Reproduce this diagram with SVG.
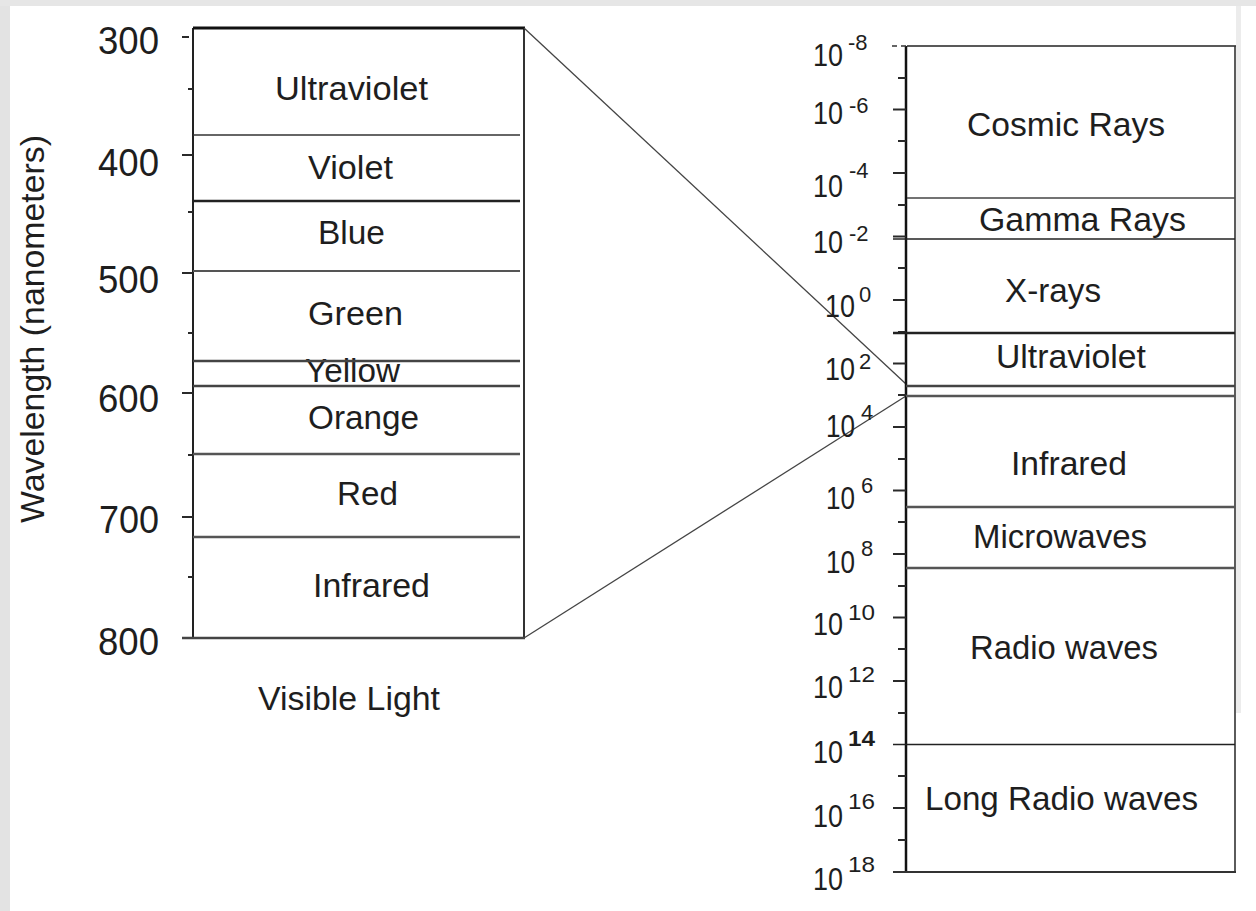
<svg xmlns="http://www.w3.org/2000/svg" width="1256" height="911" viewBox="0 0 1256 911">
<style>
  text { font-family: "Liberation Sans", Arial, sans-serif; fill: #1e1e1e; }
  .lbl { font-size: 34px; }
  .rlbl { font-size: 33px; }
  .num { font-size: 38px; }
  .ax { font-size: 32px; }
  .sup { font-size: 22px; }
  .supb { font-size: 22px; font-weight: bold; }
  .tick { stroke: #2a2a2a; stroke-width: 2; }
  .conn { stroke: #444; stroke-width: 1.3; fill: none; }
</style>
<rect x="0" y="0" width="1256" height="911" fill="#ffffff"/>
<rect x="0" y="0" width="10" height="911" fill="#e3e3e3"/>
<rect x="0" y="0" width="1256" height="6" fill="#e6e6e6"/>
<rect x="1236" y="6" width="5" height="707" fill="#ececec"/>

<!-- Left axis -->
<g id="left-axis">
  <line x1="193" y1="28" x2="193" y2="638" stroke="#222" stroke-width="2"/>
  <g class="tick">
    <line x1="182" y1="37" x2="189" y2="37"/>
    <line x1="182" y1="155" x2="193" y2="155"/>
    <line x1="182" y1="273" x2="193" y2="273"/>
    <line x1="182" y1="393" x2="193" y2="393"/>
    <line x1="182" y1="517" x2="193" y2="517"/>
    <line x1="188" y1="89" x2="193" y2="89"/>
    <line x1="188" y1="212" x2="193" y2="212"/>
    <line x1="188" y1="333" x2="193" y2="333"/>
    <line x1="188" y1="455" x2="193" y2="455"/>
    <line x1="188" y1="577" x2="193" y2="577"/>
  </g>
  <text class="num" x="98" y="54" textLength="61" lengthAdjust="spacingAndGlyphs">300</text>
  <text class="num" x="98" y="176" textLength="61" lengthAdjust="spacingAndGlyphs">400</text>
  <text class="num" x="98" y="293" textLength="61" lengthAdjust="spacingAndGlyphs">500</text>
  <text class="num" x="98" y="412" textLength="61" lengthAdjust="spacingAndGlyphs">600</text>
  <text class="num" x="99" y="533" textLength="60" lengthAdjust="spacingAndGlyphs">700</text>
  <text class="num" x="98" y="655" textLength="61" lengthAdjust="spacingAndGlyphs">800</text>
  <text transform="translate(44,329) rotate(-90)" font-size="33" text-anchor="middle" textLength="388" lengthAdjust="spacingAndGlyphs">Wavelength (nanometers)</text>
</g>

<!-- Left box (visible light) -->
<g id="visible-light">
  <line x1="524" y1="28" x2="524" y2="638" stroke="#333" stroke-width="2"/>
  <line x1="193" y1="28" x2="525" y2="28" stroke="#111" stroke-width="3"/>
  <line x1="182" y1="638" x2="525" y2="638" stroke="#444" stroke-width="2.5"/>
  <text class="lbl" x="258" y="710" textLength="182" lengthAdjust="spacingAndGlyphs">Visible Light</text>
</g>
<g id="vis-ultraviolet">
  <text class="lbl" x="275" y="100" textLength="153" lengthAdjust="spacingAndGlyphs">Ultraviolet</text>
  <line x1="193" y1="135" x2="520" y2="135" stroke="#333" stroke-width="1.6"/>
</g>
<g id="vis-violet">
  <text class="lbl" x="308" y="179" textLength="85" lengthAdjust="spacingAndGlyphs">Violet</text>
  <line x1="193" y1="201" x2="520" y2="201" stroke="#222" stroke-width="2.5"/>
</g>
<g id="vis-blue">
  <text class="lbl" x="318" y="244" textLength="67" lengthAdjust="spacingAndGlyphs">Blue</text>
  <line x1="193" y1="271" x2="520" y2="271" stroke="#555" stroke-width="2"/>
</g>
<g id="vis-green">
  <text class="lbl" x="308" y="325" textLength="95" lengthAdjust="spacingAndGlyphs">Green</text>
</g>
<g id="vis-yellow">
  <text class="lbl" x="305" y="382" textLength="95" lengthAdjust="spacingAndGlyphs">Yellow</text>
  <line x1="193" y1="361" x2="520" y2="361" stroke="#444" stroke-width="2.5"/>
  <line x1="193" y1="386" x2="520" y2="386" stroke="#444" stroke-width="2.5"/>
</g>
<g id="vis-orange">
  <text class="lbl" x="308" y="429" textLength="111" lengthAdjust="spacingAndGlyphs">Orange</text>
  <line x1="193" y1="454" x2="520" y2="454" stroke="#555" stroke-width="2.5"/>
</g>
<g id="vis-red">
  <text class="lbl" x="337" y="505" textLength="61" lengthAdjust="spacingAndGlyphs">Red</text>
  <line x1="193" y1="537" x2="520" y2="537" stroke="#555" stroke-width="2.5"/>
</g>
<g id="vis-infrared">
  <text class="lbl" x="313" y="597" textLength="117" lengthAdjust="spacingAndGlyphs">Infrared</text>
</g>

<!-- Connectors -->
<g id="connectors">
  <line class="conn" x1="524" y1="28" x2="906" y2="384"/>
  <line class="conn" x1="524" y1="638" x2="906" y2="396"/>
</g>

<!-- Right axis -->
<g id="right-axis">
  <line x1="906" y1="46" x2="906" y2="872" stroke="#111" stroke-width="2.5"/>
  <line x1="892" y1="46" x2="906" y2="46" stroke="#333" stroke-width="1.5" stroke-dasharray="5,4"/>
  <g class="tick">
    <line x1="893" y1="109.5" x2="906" y2="109.5"/>
    <line x1="893" y1="173" x2="906" y2="173"/>
    <line x1="893" y1="236.5" x2="906" y2="236.5"/>
    <line x1="893" y1="300" x2="906" y2="300"/>
    <line x1="893" y1="363.5" x2="906" y2="363.5"/>
    <line x1="893" y1="427" x2="906" y2="427"/>
    <line x1="893" y1="490.5" x2="906" y2="490.5"/>
    <line x1="893" y1="554" x2="906" y2="554"/>
    <line x1="893" y1="617.5" x2="906" y2="617.5"/>
    <line x1="893" y1="681" x2="906" y2="681"/>
    <line x1="893" y1="808" x2="906" y2="808"/>
    <line x1="898" y1="78" x2="906" y2="78"/>
    <line x1="898" y1="141" x2="906" y2="141"/>
    <line x1="898" y1="205" x2="906" y2="205"/>
    <line x1="898" y1="268" x2="906" y2="268"/>
    <line x1="898" y1="332" x2="906" y2="332"/>
    <line x1="898" y1="395" x2="906" y2="395"/>
    <line x1="898" y1="459" x2="906" y2="459"/>
    <line x1="898" y1="522" x2="906" y2="522"/>
    <line x1="898" y1="586" x2="906" y2="586"/>
    <line x1="898" y1="649" x2="906" y2="649"/>
    <line x1="898" y1="713" x2="906" y2="713"/>
    <line x1="898" y1="776" x2="906" y2="776"/>
    <line x1="898" y1="840" x2="906" y2="840"/>
  </g>
  <text class="ax" x="813" y="66" textLength="30" lengthAdjust="spacingAndGlyphs">10</text><text class="sup" x="848" y="50">-8</text>
  <text class="ax" x="813" y="124" textLength="30" lengthAdjust="spacingAndGlyphs">10</text><text class="sup" x="849" y="113">-6</text>
  <text class="ax" x="813" y="197" textLength="30" lengthAdjust="spacingAndGlyphs">10</text><text class="sup" x="849" y="178">-4</text>
  <text class="ax" x="813" y="253" textLength="30" lengthAdjust="spacingAndGlyphs">10</text><text class="sup" x="849" y="241">-2</text>
  <text class="ax" x="825" y="317" textLength="30" lengthAdjust="spacingAndGlyphs">10</text><text class="sup" x="859" y="302">0</text>
  <text class="ax" x="825" y="380" textLength="30" lengthAdjust="spacingAndGlyphs">10</text><text class="sup" x="859" y="369">2</text>
  <text class="ax" x="826" y="437" textLength="29" lengthAdjust="spacingAndGlyphs">10</text><text class="sup" x="861" y="420">4</text>
  <text class="ax" x="826" y="509" textLength="29" lengthAdjust="spacingAndGlyphs">10</text><text class="sup" x="861" y="493">6</text>
  <text class="ax" x="826" y="573" textLength="29" lengthAdjust="spacingAndGlyphs">10</text><text class="sup" x="861" y="556">8</text>
  <text class="ax" x="813" y="635" textLength="30" lengthAdjust="spacingAndGlyphs">10</text><text class="sup" x="848" y="620" textLength="27" lengthAdjust="spacingAndGlyphs">10</text>
  <text class="ax" x="813" y="698" textLength="30" lengthAdjust="spacingAndGlyphs">10</text><text class="sup" x="848" y="682" textLength="27" lengthAdjust="spacingAndGlyphs">12</text>
  <text class="ax" x="813" y="763" textLength="30" lengthAdjust="spacingAndGlyphs">10</text><text class="supb" x="848" y="746" textLength="27" lengthAdjust="spacingAndGlyphs">14</text>
  <text class="ax" x="813" y="827" textLength="30" lengthAdjust="spacingAndGlyphs">10</text><text class="sup" x="848" y="809" textLength="27" lengthAdjust="spacingAndGlyphs">16</text>
  <text class="ax" x="813" y="890" textLength="30" lengthAdjust="spacingAndGlyphs">10</text><text class="sup" x="848" y="872" textLength="27" lengthAdjust="spacingAndGlyphs">18</text>
</g>

<!-- Right box (electromagnetic spectrum) -->
<g id="spectrum">
  <line x1="907" y1="46" x2="1236" y2="46" stroke="#222" stroke-width="1.5"/>
  <line x1="1235" y1="46" x2="1235" y2="872" stroke="#333" stroke-width="1.6"/>
  <line x1="893" y1="872" x2="1236" y2="872" stroke="#333" stroke-width="2"/>
</g>
<g id="em-cosmic">
  <text class="rlbl" x="967" y="136" textLength="198" lengthAdjust="spacingAndGlyphs">Cosmic Rays</text>
  <line x1="907" y1="198" x2="1235" y2="198" stroke="#444" stroke-width="1.5"/>
</g>
<g id="em-gamma">
  <text class="rlbl" x="979" y="231" textLength="207" lengthAdjust="spacingAndGlyphs">Gamma Rays</text>
  <line x1="893" y1="239" x2="1235" y2="239" stroke="#222" stroke-width="1.5"/>
</g>
<g id="em-xrays">
  <text class="rlbl" x="1005" y="302" textLength="96" lengthAdjust="spacingAndGlyphs">X-rays</text>
  <line x1="893" y1="333" x2="1235" y2="333" stroke="#222" stroke-width="2.5"/>
</g>
<g id="em-ultraviolet">
  <text class="rlbl" x="996" y="368" textLength="150" lengthAdjust="spacingAndGlyphs">Ultraviolet</text>
  <line x1="906" y1="386" x2="1235" y2="386" stroke="#444" stroke-width="2.5"/>
</g>
<g id="em-visible">
  <line x1="906" y1="396" x2="1235" y2="396" stroke="#555" stroke-width="2.5"/>
</g>
<g id="em-infrared">
  <text class="rlbl" x="1011" y="475" textLength="116" lengthAdjust="spacingAndGlyphs">Infrared</text>
  <line x1="906" y1="507" x2="1235" y2="507" stroke="#555" stroke-width="2.5"/>
</g>
<g id="em-microwaves">
  <text class="rlbl" x="973" y="548" textLength="174" lengthAdjust="spacingAndGlyphs">Microwaves</text>
  <line x1="906" y1="568" x2="1235" y2="568" stroke="#555" stroke-width="2.5"/>
</g>
<g id="em-radio">
  <text class="rlbl" x="970" y="659" textLength="188" lengthAdjust="spacingAndGlyphs">Radio waves</text>
  <line x1="893" y1="744.5" x2="1235" y2="744.5" stroke="#222" stroke-width="1.5"/>
</g>
<g id="em-long-radio">
  <text class="rlbl" x="925" y="810" textLength="273" lengthAdjust="spacingAndGlyphs">Long Radio waves</text>
</g>
</svg>
